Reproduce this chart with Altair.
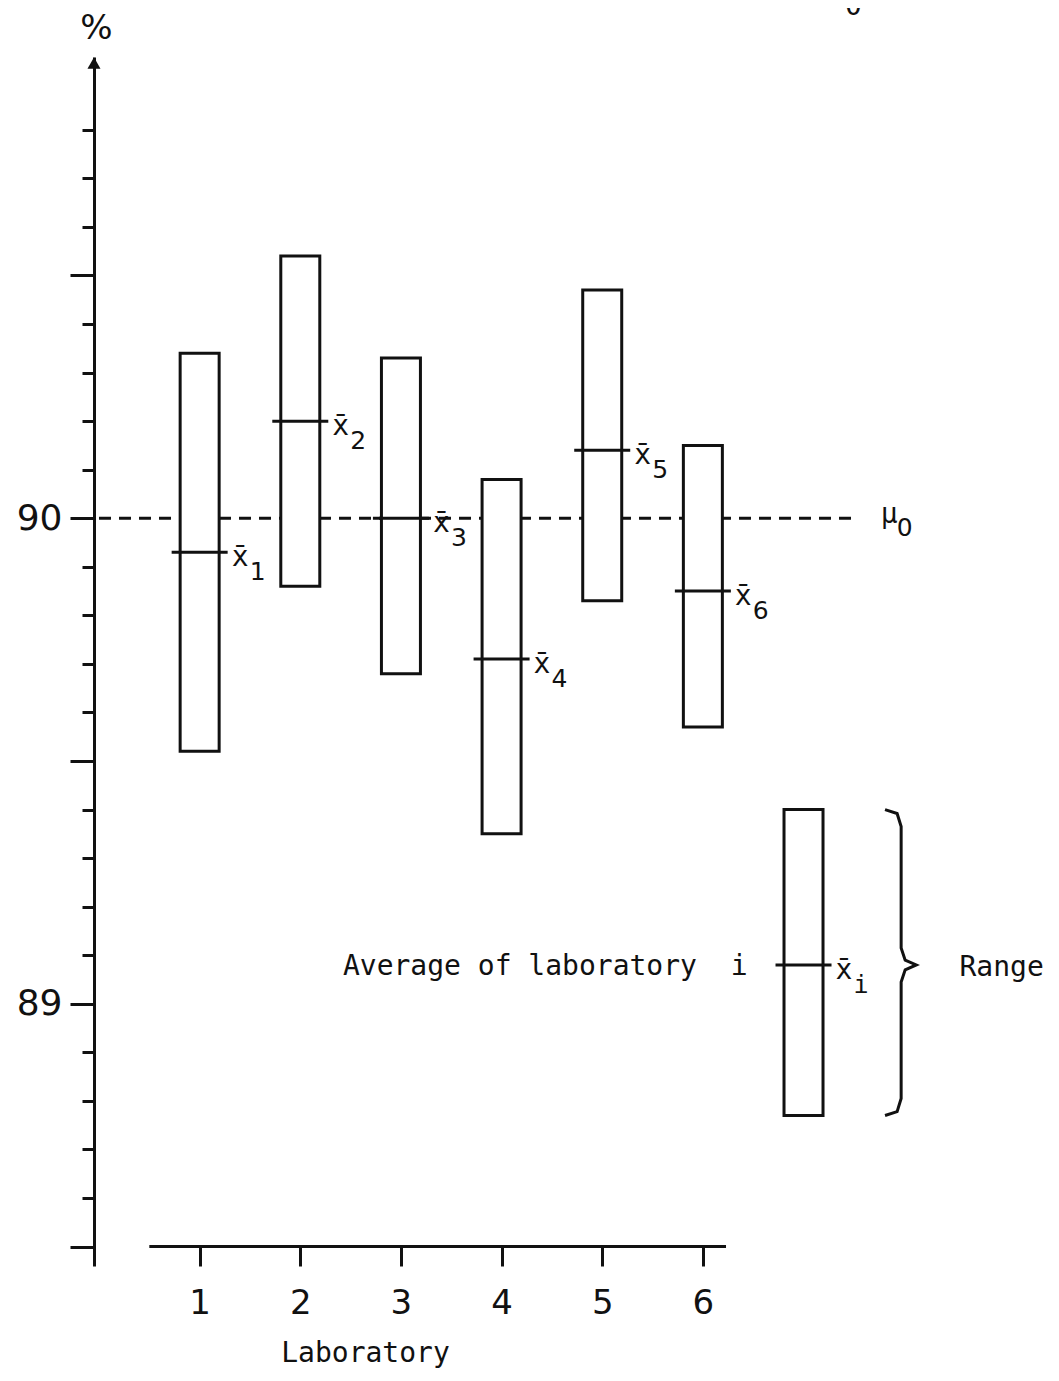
import altair as alt
import pandas as pd

# ---- data ----
labs = [1, 2, 3, 4, 5, 6]
range_low = [89.52, 89.86, 89.68, 89.35, 89.83, 89.57]
range_high = [90.34, 90.54, 90.33, 90.08, 90.47, 90.15]
lab_mean = [89.93, 90.20, 90.00, 89.71, 90.14, 89.85]
mu0 = 90.0

key_lab = [7]
key_low = [88.77]
key_high = [89.40]
key_mean = [89.08]

y_ticks = [88.5, 88.6, 88.7, 88.8, 88.9, 89.0, 89.1, 89.2, 89.3, 89.4,
           89.5, 89.6, 89.7, 89.8, 89.9, 90.0, 90.1, 90.2, 90.3, 90.4,
           90.5, 90.6, 90.7, 90.8]
y_labels = [89, 90]
x_ticks = [1, 2, 3, 4, 5, 6]

# ---- layout / style constants ----
X_DOMAIN = [0, 9.3]
Y_DOMAIN = [88.46, 90.95]
X_AXIS_LEVEL = 88.5
X_AXIS_START = 0.5
X_AXIS_END = 6.23
MU_LINE_END = 7.55
SANS = "DejaVu Sans"
MONO = "DejaVu Sans Mono"
INK = "#111111"
NB = "\u00a0"

xs = alt.Scale(domain=X_DOMAIN, nice=False, zero=False)
ys = alt.Scale(domain=Y_DOMAIN, nice=False, zero=False)

df = pd.DataFrame({"lab": labs, "low": range_low, "high": range_high,
                   "mean": lab_mean, "sub": [str(l) for l in labs]})
key = pd.DataFrame({"lab": key_lab, "low": key_low, "high": key_high,
                    "mean": key_mean, "sub": ["i"]})

major_test = "abs(datum.value*2 - round(datum.value*2)) < 0.001"
label_expr = "indexof(%s, datum.value) >= 0 ? format(datum.value, '.0f') : ''" % str(y_labels)

x_axis = alt.Axis(values=x_ticks, domain=False, grid=False, tickSize=21,
                  tickWidth=3, tickColor=INK, labelFont=SANS, labelFontSize=34,
                  labelColor=INK, labelPadding=20, offset=-21, format="d",
                  labelFlush=False, title="Laboratory", titleFont=MONO,
                  titleFontSize=28, titleFontWeight="normal", titleColor=INK,
                  titleX=271, titleY=116, titleAlign="center",
                  titleBaseline="alphabetic")
y_axis = alt.Axis(values=y_ticks, grid=False, domainWidth=3, domainColor=INK,
                  tickColor=INK, tickWidth=3,
                  tickSize={"condition": {"test": major_test, "value": 24}, "value": 12},
                  labelExpr=label_expr, labelFont=SANS, labelFontSize=36,
                  labelColor=INK, labelPadding=8, labelOverlap=False,
                  labelFlush=False, title="%", titleFont=SANS, titleFontSize=34,
                  titleFontWeight="normal", titleColor=INK, titleAngle=0,
                  titleX=2, titleY=-29, titleAlign="center", titleBaseline="middle")

base = alt.Chart(df)

# invisible layer carrying the axes
axes = base.mark_point(opacity=0).encode(
    x=alt.X("lab:Q", scale=xs, axis=x_axis),
    y=alt.Y("mean:Q", scale=ys, axis=y_axis),
)

x_line = alt.Chart(pd.DataFrame({"a": [X_AXIS_START], "b": [X_AXIS_END], "y": [X_AXIS_LEVEL]})).mark_rule(
    color=INK, strokeWidth=3).encode(
    x=alt.X("a:Q", scale=xs), x2="b:Q", y=alt.Y("y:Q", scale=ys))

arrow = alt.Chart(pd.DataFrame({"k": [0]})).mark_point(
    shape="triangle-up", filled=True, size=170, color=INK, opacity=1).encode(
    x=alt.value(0), y=alt.value(6))

mu_line = alt.Chart(pd.DataFrame({"a": [0], "b": [MU_LINE_END], "mu": [mu0]})).mark_rule(
    color=INK, strokeWidth=3, strokeDash=[12, 8]).encode(
    x=alt.X("a:Q", scale=xs), x2="b:Q", y=alt.Y("mu:Q", scale=ys))

mu_label = alt.Chart(pd.DataFrame({"b": [MU_LINE_END], "mu": [mu0]})).mark_text(
    text="\u03bc", font=MONO, fontSize=28, color=INK, align="left",
    baseline="middle", dx=22, dy=-3).encode(
    x=alt.X("b:Q", scale=xs), y=alt.Y("mu:Q", scale=ys))
mu_sub = alt.Chart(pd.DataFrame({"b": [MU_LINE_END], "mu": [mu0]})).mark_text(
    text="0", font=SANS, fontSize=25, color=INK, align="left",
    baseline="middle", dx=38, dy=10).encode(
    x=alt.X("b:Q", scale=xs), y=alt.Y("mu:Q", scale=ys))


def range_layers(data, sub_font):
    src = alt.Chart(data)
    bars = src.mark_bar(fill="white", stroke=INK, strokeWidth=3, size=39).encode(
        x=alt.X("lab:Q", scale=xs), y=alt.Y("low:Q", scale=ys), y2="high:Q")
    means = src.mark_tick(orient="horizontal", size=56, thickness=3, color=INK, opacity=1).encode(
        x=alt.X("lab:Q", scale=xs), y=alt.Y("mean:Q", scale=ys))
    xbar = src.mark_text(text="x\u0304", font=MONO, fontSize=28, color=INK,
                         align="left", baseline="alphabetic", dx=32, dy=14).encode(
        x=alt.X("lab:Q", scale=xs), y=alt.Y("mean:Q", scale=ys))
    sub = src.mark_text(font=sub_font, fontSize=25, color=INK, align="left",
                        baseline="alphabetic", dx=50, dy=28).encode(
        x=alt.X("lab:Q", scale=xs), y=alt.Y("mean:Q", scale=ys), text="sub:N")
    return [bars, means, xbar, sub]


key_text = alt.Chart(key).mark_text(
    text="Average" + NB + "of" + NB + "laboratory" + NB + NB + "i", font=MONO,
    fontSize=28, color=INK, align="right", baseline="middle", dx=-56, dy=2).encode(
    x=alt.X("lab:Q", scale=xs), y=alt.Y("mean:Q", scale=ys))
range_text = alt.Chart(key).mark_text(
    text="Range", font=MONO, fontSize=28, color=INK,
    align="left", baseline="middle", dx=156, dy=3).encode(
    x=alt.X("lab:Q", scale=xs), y=alt.Y("mean:Q", scale=ys))

# curly brace built from the key's range
lo, hi, md = key_low[0], key_high[0], key_mean[0]
bx0, bx1, bx2 = key_lab[0] + 0.81, key_lab[0] + 0.97, key_lab[0] + 1.12
brace = pd.DataFrame({
    "i": list(range(11)),
    "x": [bx0, bx0 + 0.12, bx1, bx1, bx1 + 0.04, bx2, bx1 + 0.04, bx1, bx1, bx0 + 0.12, bx0],
    "y": [hi, hi - 0.008, hi - 0.035, md + 0.035, md + 0.01, md, md - 0.01,
          md - 0.035, lo + 0.035, lo + 0.008, lo],
})
brace_line = alt.Chart(brace).mark_line(color=INK, strokeWidth=3).encode(
    x=alt.X("x:Q", scale=xs), y=alt.Y("y:Q", scale=ys), order="i:Q")

# header cut off by the top edge of the page (pixel offsets from the plot's corner)
header = pd.DataFrame({"t": ["\u03bc", "0", "=" + NB + "90.0%"], "px": [736, 751, 821],
                       "py": [-56, -42, -51]})
header_text = alt.Chart(header).mark_text(
    font=MONO, fontSize=28, color=INK, align="left", baseline="alphabetic").encode(
    x=alt.X("px:Q", scale=None), y=alt.Y("py:Q", scale=None), text="t:N")

layers = [axes, mu_line, x_line, arrow] + range_layers(df, SANS) + range_layers(key, MONO) + [
    mu_label, mu_sub, key_text, range_text, brace_line, header_text]

chart = alt.layer(*layers).properties(
    width=946, height=1209,
    autosize=alt.AutoSizeParams(type="none"),
    padding={"left": 86, "top": 49, "right": 10, "bottom": 107},
    background="white",
).configure_view(stroke=None)

chart.save("out.html", embed_options={"renderer": "svg", "actions": False})
